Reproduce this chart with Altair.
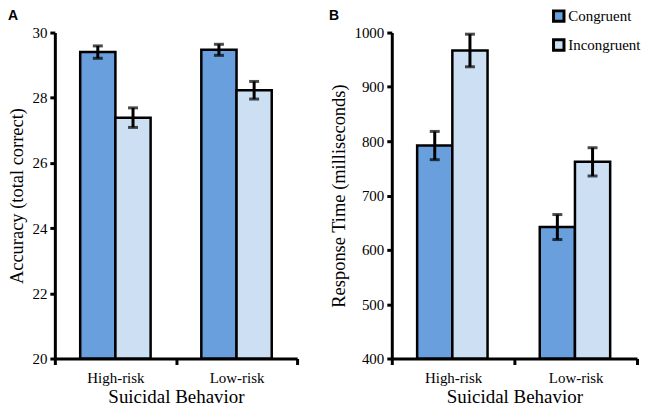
import altair as alt
import pandas as pd

groups = ["High-risk", "Low-risk"]
conditions = ["Congruent", "Incongruent"]
colors = ["#6a9fdd", "#cde0f3"]

acc_congruent = [29.40, 29.47]
acc_congruent_err = [0.19, 0.17]
acc_incongruent = [27.39, 28.23]
acc_incongruent_err = [0.30, 0.27]

rt_congruent = [792, 642]
rt_congruent_err = [26, 23]
rt_incongruent = [967, 762]
rt_incongruent_err = [30, 26]

acc_ticks = [20, 22, 24, 26, 28, 30]
rt_ticks = [400, 500, 600, 700, 800, 900, 1000]


def make_df(cong, cong_err, inc, inc_err):
    rows = []
    for i, g in enumerate(groups):
        rows.append({"group": g, "condition": "Congruent", "value": cong[i],
                     "lo": cong[i] - cong_err[i], "hi": cong[i] + cong_err[i]})
        rows.append({"group": g, "condition": "Incongruent", "value": inc[i],
                     "lo": inc[i] - inc_err[i], "hi": inc[i] + inc_err[i]})
    return pd.DataFrame(rows)


SERIF = "Liberation Serif"


def panel(df, label, label_x, ytitle, ticks, width, show_legend):
    x = alt.X("group:N", sort=groups, title="Suicidal Behavior",
              scale=alt.Scale(paddingInner=0, paddingOuter=0),
              axis=alt.Axis(labelAngle=0, tickBand="extent", tickSize=6, tickWidth=3,
                            tickColor="black", domainColor="black", domainWidth=3,
                            labelFont=SERIF, labelFontSize=15, labelColor="black",
                            labelPadding=6, titleFont=SERIF, titleFontSize=19,
                            titleFontWeight="normal", titleColor="black", titlePadding=2))
    xo = alt.XOffset("condition:N", sort=conditions,
                     scale=alt.Scale(paddingInner=0, paddingOuter=0.72))
    yscale = alt.Scale(domain=[ticks[0], ticks[-1]], zero=False, nice=False)
    yaxis = alt.Axis(values=ticks, format="d", grid=False, tickSize=5, tickWidth=3,
                     tickColor="black", domainColor="black", domainWidth=3, labelFont=SERIF,
                     labelFontSize=15, labelColor="black", labelPadding=3, titleFont=SERIF,
                     titleFontSize=18.5, titleFontWeight="normal", titleColor="black",
                     titlePadding=5)
    if show_legend:
        legend = alt.Legend(title=None, orient="none", legendX=160, legendY=-24,
                            symbolType="square", symbolSize=110, symbolStrokeWidth=3,
                            symbolStrokeColor="black", labelFont=SERIF, labelFontSize=15,
                            labelColor="black", rowPadding=6, labelOffset=2, padding=0)
    else:
        legend = None
    base = alt.Chart(df).encode(x=x, xOffset=xo)
    bars = base.mark_bar(stroke="black", strokeWidth=2.5).encode(
        y=alt.Y("value:Q", scale=yscale, axis=yaxis, title=ytitle),
        y2=alt.datum(ticks[0]),
        color=alt.Color("condition:N", sort=conditions,
                        scale=alt.Scale(domain=conditions, range=colors), legend=legend),
    )
    rules = base.mark_rule(color="black", strokeWidth=3).encode(
        y=alt.Y("lo:Q", scale=yscale), y2="hi:Q")
    cap_lo = base.mark_tick(color="black", thickness=3, size=10).encode(
        y=alt.Y("lo:Q", scale=yscale))
    cap_hi = base.mark_tick(color="black", thickness=3, size=10).encode(
        y=alt.Y("hi:Q", scale=yscale))
    tag = alt.Chart(pd.DataFrame({"tag": [label]})).mark_text(
        font="Liberation Sans", fontSize=14, fontWeight="bold", color="black",
        align="left", baseline="top").encode(
        text="tag:N", x=alt.value(label_x), y=alt.value(-24))
    return alt.layer(bars, rules, cap_lo, cap_hi, tag).properties(width=width, height=327)


dfa = make_df(acc_congruent, acc_congruent_err, acc_incongruent, acc_incongruent_err)
dfb = make_df(rt_congruent, rt_congruent_err, rt_incongruent, rt_incongruent_err)

pa = panel(dfa, "A", -47, "Accuracy (total correct)", acc_ticks, 243, False)
pb = panel(dfb, "B", -63, "Response Time (milliseconds)", rt_ticks, 246, True)

chart = alt.hconcat(pa, pb, spacing=30).resolve_legend(color="independent").configure(
    padding=0, font=SERIF
).configure_axis(labelFont=SERIF, titleFont=SERIF).configure_legend(
    labelFont=SERIF
).configure_view(stroke=None)

chart.save("out.html", embed_options={"renderer": "svg", "actions": False})
